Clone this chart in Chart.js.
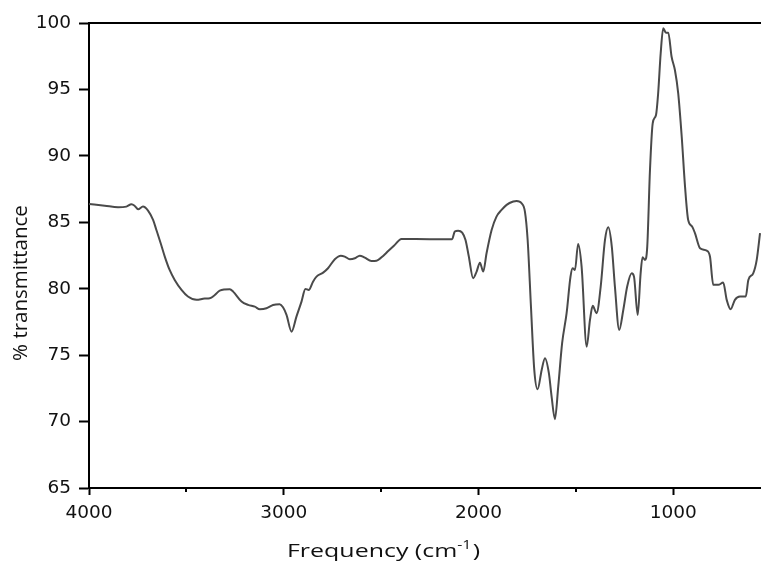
<!DOCTYPE html>
<html>
<head>
<meta charset="utf-8">
<script src="https://cdn.jsdelivr.net/npm/chart.js@4/dist/chart.umd.min.js"></script>
<style>
html,body{margin:0;padding:0;background:#fff;}
#wrap{width:761px;height:562px;position:relative;}
.pre{font-family:"Open Sans";position:absolute;left:-9999px;}
.pre2{font-family:"DejaVu Sans";position:absolute;left:-9999px;}
</style>
</head>
<body>
<span class="pre">Frequency</span><span class="pre2">100</span>
<div id="wrap"><canvas id="c" width="761" height="562"></canvas></div>
<script>
const wavenumbers = [4000,3919,3851,3808,3782,3765,3748,3723,3697,3671,
3654,3632,3611,3586,3560,3525,3492,3448,3406,3380,
3354,3329,3277,3260,3217,3183,3149,3123,3089,3055,
3021,3004,2986,2960,2935,2909,2889,2872,2850,2832,
2798,2773,2738,2707,2687,2661,2635,2610,2584,2550,
2524,2490,2464,2430,2396,2250,2136,2122,2105,2084,
2067,2050,2028,2010,1993,1976,1959,1933,1908,1882,
1856,1822,1805,1779,1762,1748,1731,1714,1697,1676,
1659,1639,1625,1608,1591,1571,1548,1528,1517,1505,
1489,1471,1445,1428,1414,1394,1373,1351,1334,1316,
1300,1278,1257,1237,1214,1202,1183,1168,1158,1146,
1134,1120,1106,1089,1078,1065,1052,1038,1026,1009,
992,975,957,940,924,903,889,863,829,812,
795,769,744,726,706,684,658,628,615,590,
572,555];
const transmittance = [86.38,86.25,86.13,86.18,86.36,86.23,85.98,86.18,85.88,85.18,
84.42,83.42,82.42,81.41,80.66,79.91,79.41,79.16,79.26,79.28,
79.53,79.86,79.96,79.78,79.03,78.78,78.65,78.46,78.53,78.78,
78.83,78.6,78.03,76.77,77.9,79.03,79.98,79.91,80.53,80.91,
81.21,81.54,82.22,82.49,82.42,82.22,82.29,82.49,82.34,82.09,
82.11,82.47,82.84,83.3,83.75,83.73,83.73,84.3,84.37,84.22,
83.67,82.42,80.79,81.29,81.96,81.29,82.67,84.42,85.43,85.93,
86.31,86.56,86.61,86.43,85.8,83.67,78.65,73.89,72.43,73.89,
74.77,73.64,71.88,70.18,72.63,75.9,78.16,80.91,81.54,81.41,
83.37,81.66,75.64,77.65,78.71,78.16,80.16,83.67,84.62,83.17,
80.16,76.9,78.4,80.16,81.16,80.91,78.03,81.16,82.37,82.17,
83.17,88.94,92.45,93.08,94.71,97.72,99.6,99.27,99.27,97.46,
96.46,94.71,91.44,87.68,85.18,84.67,84.18,83.05,82.87,82.42,
80.29,80.29,80.46,79.16,78.46,79.16,79.41,79.41,80.66,81.16,
82.17,84.18];
const xMajorTicks = [4000,3000,2000,1000];
const xMinorTicks = [3500,2500,1500];
const yTicks = [65,70,75,80,85,90,95,100];
const xTitle = "Frequency (cm";
const xTitleSup = "-1";
const xTitleEnd = ")";
const yTitle = "% transmittance";

const points = wavenumbers.map((w,i)=>({x:w,y:transmittance[i]}));

const decor = {
  id:'decor',
  afterDraw(chart){
    const ctx = chart.ctx, a = chart.chartArea, xs = chart.scales.x;
    ctx.save();
    ctx.strokeStyle = '#000'; ctx.lineWidth = 2;
    ctx.beginPath(); ctx.moveTo(a.left, a.top); ctx.lineTo(a.right, a.top); ctx.stroke();
    xMinorTicks.forEach(v=>{
      const px = Math.round(xs.getPixelForValue(v));
      ctx.beginPath(); ctx.moveTo(px, a.bottom); ctx.lineTo(px, a.bottom+4); ctx.stroke();
    });
    const mainFont = '19px "Open Sans", sans-serif';
    const supFont = '12px "Open Sans", sans-serif';
    ctx.fillStyle = '#111';
    ctx.textBaseline = 'alphabetic';
    ctx.font = mainFont; const w1 = ctx.measureText(xTitle).width; const w3 = ctx.measureText(xTitleEnd).width;
    ctx.font = supFont; const w2 = ctx.measureText(xTitleSup).width;
    const total = w1+w2+w3+1;
    const targetW = 193;
    const sx = targetW/total;
    ctx.save();
    ctx.translate(383.5 - targetW/2, 557);
    ctx.scale(sx, 1);
    ctx.textAlign = 'left';
    ctx.font = mainFont; ctx.fillText(xTitle, 0, 0);
    ctx.font = supFont; ctx.fillText(xTitleSup, w1, -8);
    ctx.font = mainFont; ctx.fillText(xTitleEnd, w1+w2+1, 0);
    ctx.restore();
    ctx.save();
    ctx.translate(21, 283);
    ctx.rotate(-Math.PI/2);
    ctx.textAlign = 'center'; ctx.textBaseline = 'middle';
    ctx.font = '20.5px "Open Sans", sans-serif';
    ctx.fillText(yTitle, 0, 0);
    ctx.restore();
    ctx.restore();
  }
};

function build(){
new Chart(document.getElementById('c'), {
  type:'line',
  data:{datasets:[{
    data:points,
    borderColor:'#4a4a4a',
    borderWidth:2,
    pointRadius:0,
    fill:false,
    cubicInterpolationMode:'monotone'
  }]},
  options:{
    responsive:false,
    animation:false,
    events:[],
    layout:{padding:{top:23,right:0,left:0,bottom:0}},
    plugins:{legend:{display:false},tooltip:{enabled:false}},
    scales:{
      x:{
        type:'linear',
        reverse:true,
        min:550,max:4000,
        afterBuildTicks(s){ s.ticks = xMajorTicks.map(v=>({value:v})); },
        afterFit(s){ s.height = 74; },
        border:{display:true,color:'#000',width:2},
        grid:{display:true,drawOnChartArea:false,drawTicks:true,tickLength:7,tickWidth:2,tickColor:'#000'},
        ticks:{color:'#111',font:{family:'"DejaVu Sans"',size:18.5},padding:7,maxRotation:0,autoSkip:false,
          callback:(v)=>String(v)},
        title:{display:false}
      },
      y:{
        min:65,max:100,
        afterBuildTicks(s){ s.ticks = yTicks.map(v=>({value:v})); },
        afterFit(s){ s.width = 89; },
        border:{display:true,color:'#000',width:2},
        grid:{display:true,drawOnChartArea:false,drawTicks:true,tickLength:10,tickWidth:2,tickColor:'#000'},
        ticks:{color:'#111',font:{family:'"DejaVu Sans"',size:18.5},padding:8,callback:(v)=>String(v)},
        title:{display:false}
      }
    }
  },
  plugins:[decor]
});
}
if (document.fonts && document.fonts.load) {
  Promise.all([document.fonts.load('19px "Open Sans"'), document.fonts.load('18.5px "DejaVu Sans"')]).then(build, build);
} else build();
</script>
</body>
</html>
